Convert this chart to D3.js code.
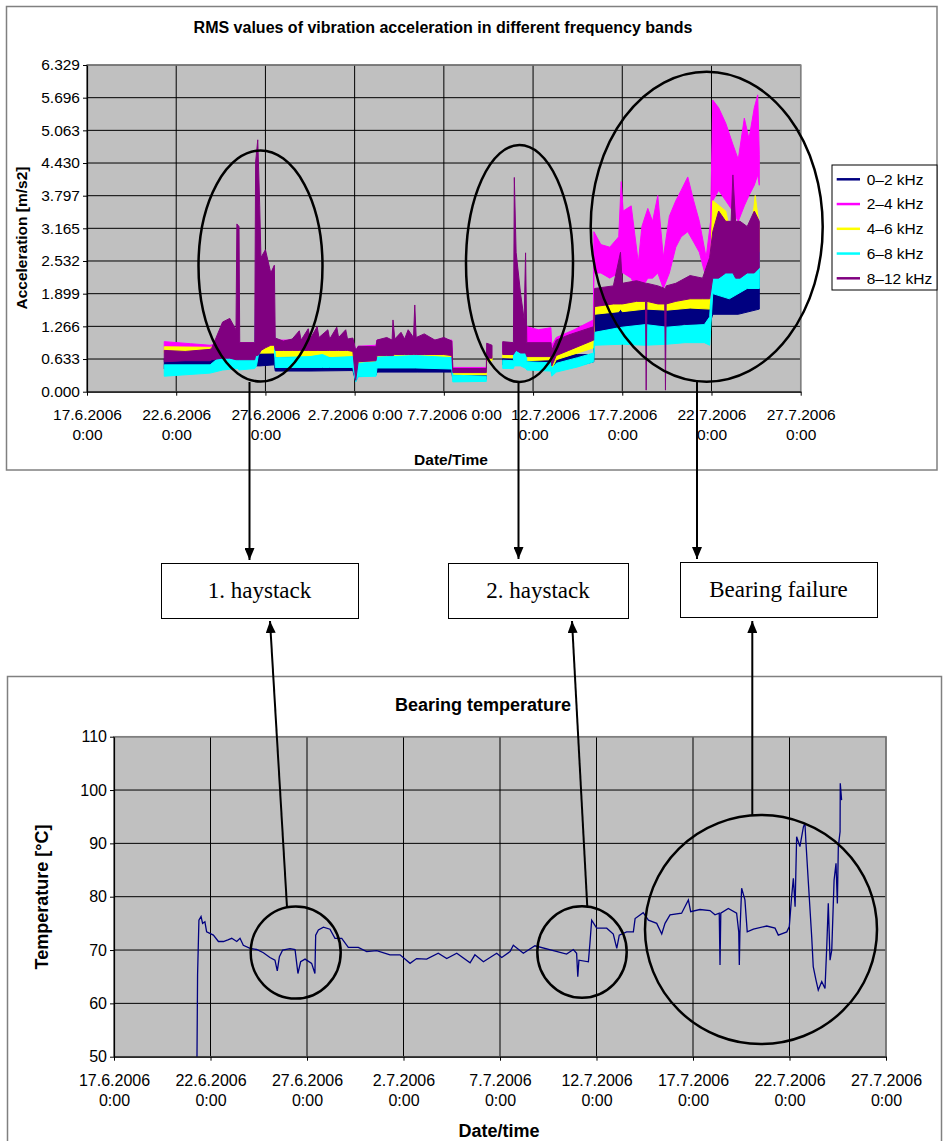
<!DOCTYPE html>
<html>
<head>
<meta charset="utf-8">
<script src="https://cdn.jsdelivr.net/npm/d3@7"></script>
<style>
  body { margin: 0; background: #fff; }
  text { font-family: "Liberation Sans", Arial, sans-serif; }
</style>
</head>
<body>
<div id="chart"></div>
<script>
// ---- data (time = days after 17.6.2006 0:00) ----
const startDate = new Date(2006, 5, 17);

const dateTicks = ["17.6.2006", "22.6.2006", "27.6.2006", "2.7.2006", "7.7.2006",
                   "12.7.2006", "17.7.2006", "22.7.2006", "27.7.2006"];
const accTicks = [0, 0.633, 1.266, 1.899, 2.532, 3.165, 3.797, 4.430, 5.063, 5.696, 6.329];
const tempTicks = [50, 60, 70, 80, 90, 100, 110];

const bandNames = ["0–2 kHz", "2–4 kHz", "4–6 kHz", "6–8 kHz", "8–12 kHz"];
const bandColors = ["#000080", "#ff00ff", "#ffff00", "#00ffff", "#800080"];

// RMS acceleration envelopes [day, low, high], null = no data
const band02 = [[4.33,0.44,0.64],[6.9,0.45,0.63],[7.6,0.47,0.68],[8.4,0.47,0.7],[9.4,0.48,0.66],[9.45,0.5,1.07],
  [9.7,0.5,0.95],[10.5,0.52,0.85],[10.55,0.4,0.66],[12.5,0.4,0.66],[14.9,0.41,0.64],[15.06,0.2,0.45],[15.2,0.3,0.52],
  [16.2,0.32,0.55],[16.25,0.38,0.6],[18.5,0.38,0.62],[20.45,0.38,0.6],[20.5,0.24,0.32],[22.38,0.24,0.31],null,
  [23.3,0.52,0.64],[23.9,0.52,0.62],[23.95,0.56,1.07],[24.6,0.56,0.95],[24.65,0.5,0.75],[26,0.48,0.72],[26.05,0.35,0.6],
  [26.3,0.45,0.72],[27.5,0.5,0.72],[28.4,0.58,0.72],[28.45,1.07,1.5],[30,1.15,1.65],[31.3,1.2,1.65],[32.5,1.2,1.65],
  [33.5,1.3,1.72],[34.9,1.3,1.75],[35.07,1.5,2.5],[36.5,1.5,2.4],[37.68,1.6,2.35]];

const band24 = [[4.33,0.78,0.97],[5.8,0.78,0.93],[6.9,0.78,0.9],[7.6,0.8,0.95],[10.5,0.8,0.95],[10.55,0.85,1.0],
  [14.9,0.85,1.0],[15.06,0.5,0.8],[15.2,0.7,0.88],[16.2,0.7,0.9],[16.25,0.85,1.0],[20.45,0.85,1.0],[20.5,0.38,0.47],
  [22.38,0.38,0.47],null,[23.3,0.75,0.95],[23.9,0.75,0.95],[24.6,0.9,1.2],[24.65,0.95,1.26],[25.3,0.95,1.2],
  [26,0.95,1.24],[26.05,0.7,0.9],[26.3,0.85,1.05],[27.3,0.95,1.2],[28.38,1.1,1.39],[28.41,2.3,3.1],[28.8,2.3,2.85],
  [29.3,2.2,2.8],[29.8,2.3,3.0],[29.94,2.3,4.07],[30.05,2.3,3.5],[30.5,2.2,3.6],[30.9,1.9,2.5],[31.1,2.0,3.2],
  [31.43,2.2,3.55],[31.7,2.2,3.3],[31.99,2.3,3.8],[32.3,2.0,2.6],[32.64,2.3,3.4],[33.0,2.8,3.7],[33.3,3.0,3.9],
  [33.67,3.1,4.16],[34.0,2.9,3.7],[34.32,2.7,3.3],[34.7,2.2,2.6],[34.95,2.5,3.3],[35.07,3.7,5.65],[35.4,3.9,5.5],
  [35.8,3.7,5.2],[36.19,3.5,4.8],[36.5,3.3,4.5],[36.84,3.6,5.3],[37.1,3.8,4.9],[37.4,4.0,5.5],[37.59,4.2,5.75],
  [37.68,4.0,4.6]];

const band46 = [[4.33,0.75,0.87],[6.9,0.74,0.86],[7.6,0.74,0.9],[10.5,0.75,0.9],[10.55,0.68,0.82],[14.9,0.68,0.8],
  [15.06,0.35,0.5],[15.2,0.52,0.62],[16.2,0.54,0.62],[16.25,0.66,0.75],[20.45,0.66,0.74],[20.5,0.33,0.39],
  [22.38,0.33,0.39],[22.4,0.6,0.7],[22.7,0.6,0.7],null,[23.3,0.66,0.76],[23.9,0.66,0.76],[23.95,0.8,1.3],
  [24.6,0.75,1.1],[24.65,0.6,0.75],[26,0.62,0.85],[26.05,0.45,0.65],[26.3,0.62,0.85],[27.5,0.75,0.95],
  [28.4,0.85,1.05],[28.45,1.5,1.78],[29.8,1.55,1.8],[29.9,1.6,2.3],[30.0,1.55,1.8],[31.3,1.6,1.82],[32.5,1.58,1.85],
  [33.8,1.62,1.9],[34.9,1.6,1.9],[35.07,2.6,3.7],[35.8,2.6,3.5],[36.1,2.3,3.0],[37.2,2.3,3.0],[37.45,2.5,3.8],
  [37.68,2.4,3.2]];

const band68 = [[4.33,0.3,0.52],[6.9,0.36,0.52],[7.6,0.42,0.72],[8.4,0.45,0.75],[8.45,0.45,0.94],[8.52,0.42,0.7],
  [9.4,0.45,0.7],[9.5,0.5,3.0],[9.6,0.7,2.4],[9.8,0.85,1.6],[10.2,0.9,1.35],[10.5,0.95,1.3],[10.55,0.47,0.66],
  [12.5,0.47,0.68],[13.2,0.47,0.72],[13.6,0.47,0.66],[14.9,0.47,0.68],[15.06,0.19,0.45],[15.2,0.29,0.55],[16.2,0.3,0.58],
  [16.25,0.46,0.67],[18.4,0.46,0.7],[20.45,0.44,0.66],[20.5,0.19,0.32],[22.38,0.2,0.3],null,[23.3,0.45,0.61],[23.9,0.45,0.6],
  [23.95,0.5,1.97],[24.3,0.5,1.3],[24.6,0.45,1.0],[24.65,0.42,0.58],[26,0.4,0.56],[26.05,0.3,0.45],[26.3,0.38,0.55],
  [27.5,0.48,0.66],[28.4,0.58,0.75],[28.45,0.9,1.15],[30,0.92,1.25],[31.3,0.9,1.3],[32.5,0.92,1.25],
  [33.5,0.95,1.28],[34.6,0.95,1.3],[34.9,0.9,1.45],[35.07,1.9,2.5],[36,1.8,2.6],[37,2.0,2.6],[37.68,2.0,2.7]];

const band812 = [[4.33,0.58,0.8],[5.5,0.6,0.78],[6.9,0.6,0.82],[7.0,0.62,0.85],[7.6,0.65,1.35],[8.0,0.65,1.42],[8.35,0.62,1.2],
  [8.4,0.62,3.25],[8.52,0.62,3.2],[8.56,0.62,0.95],[9.4,0.62,0.95],[9.45,0.7,4.45],[9.57,0.7,4.88],[9.68,0.75,3.6],
  [9.75,0.8,2.6],[10.0,0.85,2.75],[10.3,0.9,2.3],[10.5,0.9,2.45],[10.55,0.8,1.04],[11.0,0.8,0.98],[11.5,0.8,1.02],
  [11.9,0.8,1.18],[12.0,0.8,1.0],[12.4,0.8,1.22],[12.5,0.8,1.02],[12.9,0.8,1.26],[13.0,0.8,1.05],[13.5,0.8,1.2],
  [13.6,0.8,1.02],[14.0,0.8,1.25],[14.1,0.8,1.05],[14.5,0.8,1.2],[14.6,0.8,1.02],[14.9,0.78,1.04],[15.06,0.22,0.8],
  [15.2,0.58,0.88],[16.2,0.6,0.87],[16.25,0.7,1.0],[16.8,0.7,1.05],[17.1,0.7,1.0],[17.15,0.7,1.39],[17.25,0.72,1.02],
  [17.6,0.72,1.15],[17.8,0.72,1.02],[18.0,0.72,1.2],[18.3,0.72,1.05],[18.37,0.72,1.68],[18.45,0.72,1.05],
  [18.9,0.72,1.12],[19.5,0.72,1.0],[20.0,0.72,1.05],[20.45,0.7,0.98],[20.5,0.37,0.45],[22.38,0.37,0.45],
  [22.4,0.65,0.94],[22.7,0.65,0.9],null,[23.3,0.72,0.97],[23.9,0.72,0.95],[23.95,0.75,4.15],[24.05,0.8,2.7],
  [24.3,0.75,1.9],[24.5,0.75,1.4],[24.58,0.75,2.69],[24.65,0.68,0.95],[26,0.68,0.95],[26.05,0.5,0.8],[26.3,0.7,1.0],
  [27.0,0.8,1.1],[28.4,1.0,1.26],[28.45,1.65,2.0],[29.5,1.7,2.05],[29.9,1.7,2.7],[30.0,1.7,2.1],[30.8,1.75,2.15],
  [31.3,1.75,2.1],[31.34,0.03,2.1],[31.38,1.75,2.1],[32.0,1.7,2.05],[32.38,1.7,2.0],[32.42,0.03,2.0],
  [32.46,1.7,2.05],[33.0,1.75,2.1],[33.8,1.8,2.25],[34.5,1.8,2.2],[34.9,1.8,2.6],[35.07,2.2,3.1],[35.4,2.2,3.5],
  [35.8,2.3,3.3],[36.1,2.3,3.3],[36.2,2.3,4.2],[36.35,2.2,3.3],[36.6,2.2,3.3],[37.0,2.3,3.2],[37.4,2.3,3.5],
  [37.68,2.4,3.3]];

const bands = [band02, band24, band46, band68, band812];

// bearing temperature [day, °C]
const temperature = [[4.30,50],[4.33,65.3],[4.40,75.6],[4.51,76.3],[4.59,75.0],[4.71,75.3],[4.80,73.4],[5.15,72.8],
  [5.41,71.6],[5.67,71.6],[5.90,71.9],[6.10,72.2],[6.36,71.6],[6.53,72.2],[6.70,70.9],[7.05,70.3],[7.39,70.1],
  [7.74,69.5],[8.08,68.6],[8.34,68.1],[8.46,66.1],[8.57,68.75],[8.74,70.0],[9.12,70.25],[9.38,70.1],[9.47,67.4],
  [9.53,65.6],[9.67,67.8],[9.90,68.3],[10.24,67.5],[10.41,65.6],[10.45,72.8],[10.59,73.75],[10.85,74.3],
  [11.19,73.9],[11.45,72.2],[11.80,72.2],[12.14,70.5],[12.66,70.5],[13.09,69.7],[13.61,69.9],[14.30,69.1],
  [14.82,69.1],[15.34,67.5],[15.68,68.4],[16.20,68.3],[16.80,69.4],[17.24,68.4],[17.76,69.4],[18.45,67.6],
  [18.70,69.1],[19.14,67.8],[19.83,69.4],[20.09,68.6],[20.52,69.7],[20.69,70.9],[21.21,69.4],[21.81,70.8],
  [23.45,69.25],[23.80,70.1],[23.97,69.4],[24.03,65.0],[24.09,68.1],[24.58,67.8],[24.66,71.3],[24.75,75.6],
  [25.01,74.1],[25.53,74.1],[25.87,73.0],[26.05,70.3],[26.18,72.8],[26.56,73.4],[26.91,73.4],[27.00,75.9],
  [27.42,77.0],[27.69,75.6],[28.12,75.0],[28.38,73.0],[28.55,75.0],[28.81,76.6],[29.41,76.9],[29.76,79.4],
  [29.88,77.2],[30.36,77.6],[30.88,77.4],[31.14,76.6],[31.36,76.9],[31.40,67.2],[31.44,76.9],[31.83,77.8],
  [32.26,76.9],[32.37,73.4],[32.40,67.2],[32.43,73.1],[32.52,81.6],[32.69,79.4],[32.81,73.4],[33.13,73.9],
  [33.82,74.5],[34.25,74.1],[34.42,72.8],[34.86,73.4],[34.99,74.4],[35.11,80.0],[35.20,83.45],[35.29,78.1],
  [35.37,91.25],[35.54,89.4],[35.72,93.1],[35.80,93.75],[35.85,90.3],[35.97,83.1],[36.15,72.5],[36.23,66.9],
  [36.37,64.4],[36.49,62.5],[36.67,64.1],[36.84,62.8],[36.93,70.6],[37.01,78.75],[37.10,68.1],[37.19,70.0],
  [37.31,83.1],[37.41,86.25],[37.48,78.75],[37.53,89.4],[37.62,92.2],[37.63,101.25],[37.70,98.1]];

const notes = ["1. haystack", "2. haystack", "Bearing failure"];

// ---- helpers ----
const parseTick = d3.timeParse("%d.%m.%Y");
const tickDates = dateTicks.map(parseTick);
const toDate = d => new Date(startDate.getTime() + d * 864e5);

const svg = d3.select("#chart").append("svg")
    .attr("width", 943)
    .attr("height", 1141);

function drawFrame(box, x, y, yTicks) {
    const g = svg.append("g");
    g.append("rect")
        .attr("x", box.left).attr("y", box.top)
        .attr("width", box.right - box.left).attr("height", box.bottom - box.top)
        .attr("fill", "#c0c0c0");
    // grid
    g.selectAll(".hg").data(yTicks).enter().append("line")
        .attr("x1", box.left).attr("x2", box.right)
        .attr("y1", d => y(d)).attr("y2", d => y(d))
        .attr("stroke", "#000").attr("stroke-width", 1);
    g.selectAll(".vg").data(tickDates).enter().append("line")
        .attr("x1", d => x(d)).attr("x2", d => x(d))
        .attr("y1", box.top).attr("y2", box.bottom)
        .attr("stroke", "#000").attr("stroke-width", 1);
    g.append("rect")
        .attr("x", box.left).attr("y", box.top)
        .attr("width", box.right - box.left).attr("height", box.bottom - box.top)
        .attr("fill", "none").attr("stroke", "#808080").attr("stroke-width", 1.5);
    return g;
}

function drawAxes(box, x, y, yTicks, yFmt, fs, wrap, shift, labelY) {
    const ya = svg.append("g")
        .attr("transform", `translate(${box.left},0)`)
        .call(d3.axisLeft(y).tickValues(yTicks).tickFormat(yFmt).tickSize(4).tickSizeOuter(0).tickPadding(3));
    ya.select(".domain").attr("stroke", "#000").attr("stroke-width", 1.2);
    ya.selectAll("text").attr("font-size", fs + "px").attr("fill", "#000").attr("font-family", "Liberation Sans, Arial, sans-serif");

    const xa = svg.append("g")
        .attr("transform", `translate(0,${box.bottom})`)
        .call(d3.axisBottom(x).tickValues(tickDates).tickSize(4).tickSizeOuter(0));
    xa.select(".domain").attr("stroke", "#000").attr("stroke-width", 1.2);
    xa.selectAll(".tick text").each(function (d, i) {
        const t = d3.select(this).text(null)
            .attr("y", labelY).attr("dy", null)
            .attr("font-size", fs + "px").attr("fill", "#000")
            .attr("font-family", "Liberation Sans, Arial, sans-serif");
        const lines = wrap[i] ? [dateTicks[i], "0:00"] : [dateTicks[i] + " 0:00"];
        lines.forEach((s, j) => t.append("tspan")
            .attr("x", j ? 0 : shift[i])
            .attr("dy", j ? "1.3em" : "0.71em").text(s));
    });
}

// ---- top chart: RMS values ----
svg.append("rect").attr("x", 6.5).attr("y", 6.5).attr("width", 930.5).attr("height", 463.5)
    .attr("fill", "#fff").attr("stroke", "#808080").attr("stroke-width", 1.5);

const tb = {left: 87, right: 800.7, top: 65, bottom: 391.7};
const xTop = d3.scaleTime().domain([tickDates[0], tickDates[8]]).range([tb.left, tb.right]);
const yTop = d3.scaleLinear().domain([0, 6.329]).range([tb.bottom, tb.top]);

drawFrame(tb, xTop, yTop, accTicks);

svg.append("clipPath").attr("id", "clipTop").append("rect")
    .attr("x", tb.left).attr("y", tb.top).attr("width", tb.right - tb.left).attr("height", tb.bottom - tb.top);

const area = d3.area()
    .defined(d => d !== null)
    .x(d => xTop(toDate(d[0])))
    .y0(d => yTop(d[1]))
    .y1(d => yTop(d[2]));

svg.append("g").attr("clip-path", "url(#clipTop)")
    .selectAll("path").data(bands).enter().append("path")
    .attr("d", area)
    .attr("fill", (d, i) => bandColors[i])
    .attr("stroke", (d, i) => bandColors[i])
    .attr("stroke-width", 1);

drawAxes(tb, xTop, yTop, accTicks, d3.format(".3f"), 15.5,
    [true, true, true, false, false, true, true, true, true],
    [0, 0, 0, 0, 10, 12, 0, 0, 0], 17);

svg.append("text").attr("x", 443).attr("y", 33).attr("text-anchor", "middle")
    .attr("font-size", "16px").attr("font-weight", "bold")
    .text("RMS values of vibration acceleration in different frequency bands");
svg.append("text").attr("x", 451).attr("y", 465).attr("text-anchor", "middle")
    .attr("font-size", "15.5px").attr("font-weight", "bold").text("Date/Time");
svg.append("text").attr("transform", "translate(27,238) rotate(-90)").attr("text-anchor", "middle")
    .attr("font-size", "15.5px").attr("font-weight", "bold").text("Acceleration [m/s2]");

// legend
const lg = svg.append("g").attr("transform", "translate(832,165)");
lg.append("rect").attr("width", 105).attr("height", 125).attr("fill", "#fff")
    .attr("stroke", "#000").attr("stroke-width", 1);
const li = lg.selectAll(".item").data(bandNames).enter().append("g")
    .attr("transform", (d, i) => `translate(0,${14.3 + i * 24.75})`);
li.append("line").attr("x1", 4.7).attr("x2", 28).attr("stroke", (d, i) => bandColors[i]).attr("stroke-width", 2.5);
li.append("text").attr("x", 34.7).attr("dy", "0.35em").attr("font-size", "15.5px").text(d => d);

// ---- bottom chart: bearing temperature ----
svg.append("rect").attr("x", 7.5).attr("y", 676.5).attr("width", 934).attr("height", 480)
    .attr("fill", "#fff").attr("stroke", "#808080").attr("stroke-width", 1.5);

const bb = {left: 114, right: 886, top: 736.7, bottom: 1056.7};
const xBot = d3.scaleTime().domain([tickDates[0], tickDates[8]]).range([bb.left, bb.right]);
const yBot = d3.scaleLinear().domain([50, 110]).range([bb.bottom, bb.top]);

drawFrame(bb, xBot, yBot, tempTicks);

svg.append("path").datum(temperature)
    .attr("d", d3.line().x(d => xBot(toDate(d[0]))).y(d => yBot(d[1])))
    .attr("fill", "none").attr("stroke", "#000080").attr("stroke-width", 1.3);

drawAxes(bb, xBot, yBot, tempTicks, d3.format("d"), 16,
    dateTicks.map(() => true), dateTicks.map(() => 0), 17.6);

svg.append("text").attr("x", 483).attr("y", 711).attr("text-anchor", "middle")
    .attr("font-size", "18px").attr("font-weight", "bold").text("Bearing temperature");
svg.append("text").attr("x", 499).attr("y", 1137).attr("text-anchor", "middle")
    .attr("font-size", "18px").attr("font-weight", "bold").text("Date/time");
svg.append("text").attr("transform", "translate(48,897) rotate(-90)").attr("text-anchor", "middle")
    .attr("font-size", "18px").attr("font-weight", "bold").text("Temperature [°C]");

// ---- annotations ----
const defs = svg.append("defs");
defs.append("marker").attr("id", "arrow")
    .attr("viewBox", "0 0 12 10").attr("refX", 12).attr("refY", 5)
    .attr("markerUnits", "userSpaceOnUse").attr("markerWidth", 12).attr("markerHeight", 10)
    .attr("orient", "auto")
    .append("path").attr("d", "M0,0L12,5L0,10z").attr("fill", "#000");

const ann = svg.append("g").attr("fill", "none").attr("stroke", "#000").attr("stroke-width", 2.5);
[[260.5, 266, 62, 115.5], [519.5, 263.5, 53.5, 118.5], [706.7, 226.7, 116, 155],
 [295.7, 952.5, 45, 46], [582, 952, 44.7, 45.7], [761, 929.5, 116, 114.5]].forEach(e => {
    ann.append("ellipse").attr("cx", e[0]).attr("cy", e[1]).attr("rx", e[2]).attr("ry", e[3]);
});

[[249.5, 382, 249.5, 560], [518.5, 382, 518.5, 559], [697, 382, 697, 559],
 [287, 907, 270, 621], [587.3, 907, 572, 621], [752.3, 815, 752.3, 621]].forEach(a => {
    ann.append("line").attr("x1", a[0]).attr("y1", a[1]).attr("x2", a[2]).attr("y2", a[3])
        .attr("stroke-width", 2).attr("marker-end", "url(#arrow)");
});

const boxes = [[161, 563, 197, 55], [448, 563, 180, 55], [680, 562, 197, 55]];
boxes.forEach((b, i) => {
    svg.append("rect").attr("x", b[0] + 0.5).attr("y", b[1] + 0.5).attr("width", b[2]).attr("height", b[3])
        .attr("fill", "#fff").attr("stroke", "#000").attr("stroke-width", 1);
    svg.append("text").attr("x", b[0] + b[2] / 2).attr("y", b[1] + 35)
        .attr("text-anchor", "middle").attr("font-size", "23px")
        .style("font-family", "'Liberation Serif', 'Times New Roman', serif")
        .text(notes[i]);
});
</script>
</body>
</html>
